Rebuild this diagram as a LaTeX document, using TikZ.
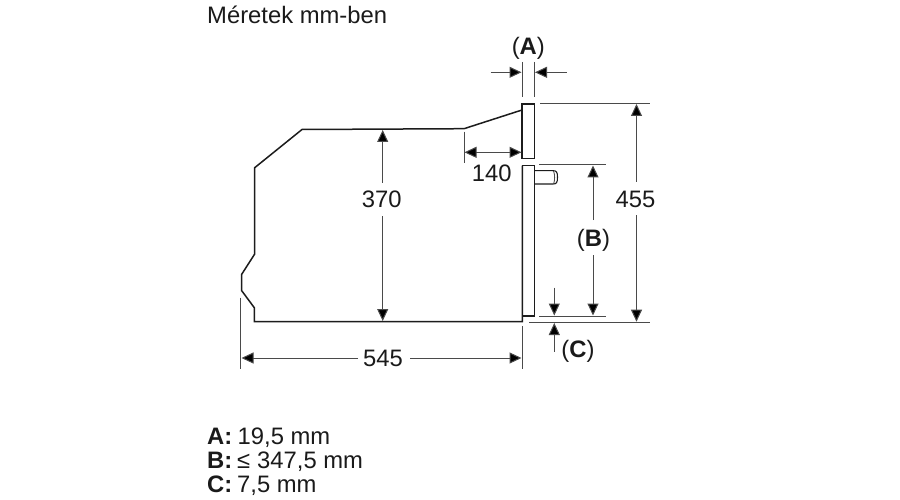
\documentclass[tikz,border=0pt]{standalone}
\usepackage{fontspec}
\setmainfont{Liberation Sans}
\usetikzlibrary{arrows.meta}
\definecolor{outl}{HTML}{1C1C1C}
\definecolor{dimc}{HTML}{4A4A4A}
\definecolor{txtc}{HTML}{1A1A1A}
\tikzset{
  body/.style={draw=outl,line width=1.5pt,line join=miter},
  thin part/.style={draw=outl,line width=1.1pt},
  extline/.style={draw=dimc,line width=1pt},
  dimline/.style={draw=dimc,line width=1pt,-{Triangle[length=12pt,width=11pt,fill=black]}},
  big/.style={inner sep=0pt,anchor=base,text=txtc,font=\fontsize{23.8}{25}\selectfont},
  legend/.style={inner sep=0pt,anchor=base west,text=txtc,font=\fontsize{23.8}{25}\selectfont},
}
\begin{document}
\begin{tikzpicture}[x=1pt,y=-1pt]
\useasboundingbox[fill=white] (0,0) rectangle (900,500);
% body outline
\draw[body] (522,110) -- (464,128.7) -- (302,129.5) -- (254.7,167.7) -- (254.7,254)
  -- (241.7,274.3) -- (241.7,290.7) -- (254.3,307.7) -- (254.3,321.7) -- (522.3,321.7) -- (522.3,165.7);
% front panels
\draw[thin part] (522,104) rectangle (534.3,158.7);
\draw[thin part] (522.3,165.7) -- (534.3,165.7) -- (534.3,316) -- (522.3,316);
% knob
\draw[thin part] (534.3,170.7) -- (553,170.7) .. controls (556.5,170.7) and (557.5,172) .. (557.5,177.3)
  .. controls (557.5,182.7) and (556.5,184) .. (553,184) -- (534.3,184);
\draw[draw=dimc,line width=.8pt] (553.5,171) .. controls (555,174) and (555,181) .. (553.5,184);
% extension lines
\draw[extline] (522,62) -- (522,97);
\draw[extline] (534.3,62) -- (534.3,97);
\draw[extline] (540,103.3) -- (650,103.3);
\draw[extline] (529.3,322.3) -- (650,322.3);
\draw[extline] (539.3,165) -- (605.7,165);
\draw[extline] (539,316) -- (605.7,316);
\draw[extline] (464,131.7) -- (464,162.7);
\draw[extline] (240.7,297.7) -- (240.7,369);
\draw[extline] (522.3,326) -- (522.3,369);
% labels
\node[legend] (ttl) at (207,23.5) {Méretek mm-ben};
\node[big] (lA) at (528.3,54.5) {(\textbf{A})};
\node[big] (l140) at (491.7,182) {140};
\node[big] (l370) at (381.7,207.5) {370};
\node[big] (l455) at (635.5,207.5) {455};
\node[big] (lB) at (593.5,246.5) {(\textbf{B})};
\node[big] (lC) at (578,357) {(\textbf{C})};
\node[big] (l545) at (383,366) {545};
\node[legend] (kA) at (207,444.5) {\textbf{A:}};
\node[legend] (vA) at (237.5,444.5) {19,5 mm};
\node[legend] (kB) at (207,468.5) {\textbf{B:}};
\node[legend] (vBs) at (237,468.5) {≤};
\node[legend] (vB) at (257,468.5) {347,5 mm};
\node[legend] (kC) at (207,492.5) {\textbf{C:}};
\node[legend] (vC) at (237,492.5) {7,5 mm};
% dimension arrows
\draw[dimline] (490.7,72.3) -- (521.5,72.3);
\draw[dimline] (566.7,72.3) -- (535,72.3);
\draw[dimline,{Triangle[length=12pt,width=11pt,fill=black]}-{Triangle[length=12pt,width=11pt,fill=black]}] (464.5,152.3) -- (521.5,152.3);
\draw[dimline] (382.7,183) -- (382.7,130);
\draw[dimline] (382.7,216) -- (382.7,321);
\draw[dimline] (636.5,182) -- (636.5,104);
\draw[dimline] (636.5,215) -- (636.5,321.7);
\draw[dimline] (593,220) -- (593,165.5);
\draw[dimline] (593,255) -- (593,315.5);
\draw[dimline] (554.3,287.7) -- (554.3,315.5);
\draw[dimline] (554.3,351.7) -- (554.3,323);
\draw[dimline] (358,358) -- (241.5,358);
\draw[dimline] (410,358) -- (521.5,358);
\end{tikzpicture}
\end{document}
